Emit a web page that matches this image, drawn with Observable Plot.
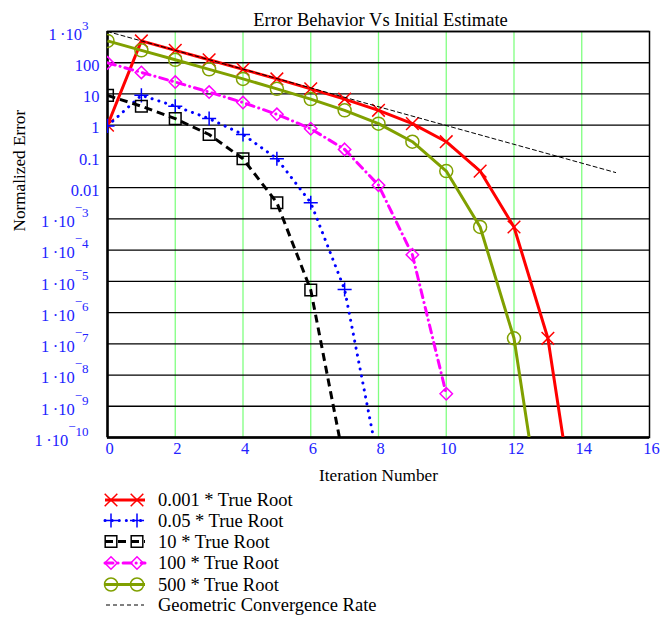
<!DOCTYPE html>
<html><head><meta charset="utf-8">
<script src="https://cdn.jsdelivr.net/npm/d3@7"></script>
<script src="https://cdn.jsdelivr.net/npm/@observablehq/plot@0.6"></script>
<style>
html,body{margin:0;padding:0;background:#fff;}
#chart svg,#legend svg{display:block;}
</style>
</head><body><div id="chart"></div><div id="legend"></div>
<script>
// ---- data ----
const iterations = [0,1,2,3,4,5,6,7,8,9,10,11,12,13,14];
const err0001 = [0.999, 499, 249, 124, 61.5, 30.3, 14.6, 6.86, 2.99, 1.12, 0.296, 0.0339, 5.5e-4, 1.5e-7, 1.2e-14];
const err005  = [0.95, 9.03, 4.06, 1.63, 0.505, 0.0848, 3.3e-3, 5.5e-6, 1.5e-11];
const err10   = [9, 4.05, 1.62, 0.503, 0.084, 3.3e-3, 5.3e-6, 1.4e-11];
const err100  = [99, 49, 24, 11.5, 5.3, 2.23, 0.77, 0.168, 0.012, 7.1e-5, 2.5e-9];
const err500  = [499, 249, 124, 61.5, 30.3, 14.6, 6.86, 2.99, 1.12, 0.296, 0.0339, 5.5e-4, 1.5e-7, 1.2e-14];
const geomX = [0, 15];
const geomY = [1000, 0.0305];
const seriesNames = ["0.001 * True Root", "0.05 * True Root", "10 * True Root", "100 * True Root", "500 * True Root"];
const geomName = "Geometric Convergence Rate";
const xTicks = [0, 2, 4, 6, 8, 10, 12, 14, 16];
const xGrid = [2, 4, 6, 8, 10, 12, 14];
const yTicks = [1e3, 100, 10, 1, 0.1, 0.01, 1e-3, 1e-4, 1e-5, 1e-6, 1e-7, 1e-8, 1e-9, 1e-10];
const yTickLabels = ["1·10^3", "100", "10", "1", "0.1", "0.01", "1·10^-3", "1·10^-4", "1·10^-5", "1·10^-6", "1·10^-7", "1·10^-8", "1·10^-9", "1·10^-10"];
const title = "Error Behavior Vs Initial Estimate";
const xLabel = "Iteration Number";
const yLabel = "Normalized Error";

// ---- styles ----
const FONT = "'Liberation Serif', 'Times New Roman', serif";
const BLUE = "#2222ff";
const styles = [
  {stroke: "#ff0000", dash: null, cap: "butt", symbol: "times", sym: d3.symbolTimes, r: 5.8},
  {stroke: "#0000ff", dash: "0.1 7", cap: "round", symbol: "plus", sym: d3.symbolPlus, r: 4.6},
  {stroke: "#000000", dash: "8 5", cap: "butt", symbol: "square2", sym: d3.symbolSquare2, r: 7.4},
  {stroke: "#ff00ff", dash: "8 5 0.1 5", cap: "round", symbol: "diamond2", sym: d3.symbolDiamond2, r: 5.6},
  {stroke: "#80a000", dash: null, cap: "butt", symbol: "circle", sym: d3.symbolCircle, r: 6.5}
];
const allSeries = [err0001, err005, err10, err100, err500];
const tables = allSeries.map((vals, k) => vals.map((v, i) => ({x: iterations[i], y: v, name: seriesNames[k]})));
const geomTable = geomX.map((x, i) => ({x, y: geomY[i]}));
const tickRows = yTicks.map((v, i) => ({v, label: yTickLabels[i]}));

const marks = [
  Plot.ruleX(xGrid, {stroke: "#80ff80", strokeWidth: 1.3}),
  Plot.ruleY(yTicks, {stroke: "#000", strokeWidth: 1.3}),
  Plot.frame({stroke: "#000", strokeWidth: 1.5}),
  Plot.ruleX([0], {stroke: "#000", strokeWidth: 2.5}),
  Plot.ruleY([1e-10], {stroke: "#000", strokeWidth: 2.5})
];
tables.forEach((t, k) => {
  const s = styles[k];
  marks.push(Plot.line(t, {x: "x", y: "y", stroke: s.stroke, strokeWidth: 3, strokeDasharray: s.dash, strokeLinecap: s.cap, clip: true}));
  marks.push(Plot.dot(t, {x: "x", y: "y", symbol: s.symbol, r: s.r, stroke: s.stroke, fill: "none", strokeWidth: 1.5, clip: true}));
});
marks.push(Plot.line(geomTable, {x: "x", y: "y", stroke: "#000", strokeWidth: 1, strokeDasharray: "4 3", clip: true}));
// tick labels
marks.push(Plot.text(xTicks, {x: d => d, text: d => String(d), frameAnchor: "bottom", dy: 16, dx: 2, fill: BLUE, fontSize: 16.5, fontFamily: FONT}));
marks.push(Plot.text(tickRows.filter(d => !d.label.includes("^")), {y: "v", text: "label", frameAnchor: "left", dx: -8, dy: 3, textAnchor: "end", fill: BLUE, fontSize: 16.5, fontFamily: FONT}));
marks.push(Plot.text(tickRows.filter(d => d.label.includes("^")), {y: "v", text: "label", frameAnchor: "left", dx: -19, dy: 3, textAnchor: "end", fill: BLUE, fontSize: 16.5, fontFamily: FONT}));
// titles
marks.push(Plot.text([title], {text: d => d, frameAnchor: "top", dy: -18.5, dx: 2, fill: "#000", fontSize: 18.5, fontFamily: FONT}));
marks.push(Plot.text([xLabel], {text: d => d, frameAnchor: "bottom", dy: 43, fill: "#000", fontSize: 17.2, fontFamily: FONT}));
marks.push(Plot.text([yLabel], {text: d => d, frameAnchor: "left", dx: -88, dy: -3, rotate: -90, fill: "#000", fontSize: 17.2, fontFamily: FONT}));

const svg = Plot.plot({
  width: 671, height: 490,
  marginLeft: 107, marginRight: 22, marginTop: 31, marginBottom: 53,
  x: {domain: [0, 16], axis: null},
  y: {type: "log", domain: [1e-10, 1e3], axis: null},
  style: {fontFamily: FONT, fontSize: "16px", background: "white", overflow: "visible"},
  marks
});

// superscripts for power-of-ten labels
d3.select(svg).selectAll("text").each(function() {
  const t = this.textContent;
  const m = t.match(/^(.*)\^(-?)(\d+)$/);
  if (!m) return;
  const sel = d3.select(this);
  sel.text(null);
  sel.append("tspan").text(m[1].replace("·", "\u2009·"));
  if (m[2]) {
    sel.append("tspan").attr("dy", -15).attr("font-size", 13).text("\u2212");
    sel.append("tspan").attr("dy", 5).attr("font-size", 13).text(m[3]);
  } else {
    sel.append("tspan").attr("dy", -10).attr("font-size", 13).text(m[3]);
  }
});
document.getElementById("chart").appendChild(svg);

// ---- legend ----
const leg = d3.create("svg").attr("width", 671).attr("height", 129)
  .style("font-family", FONT).style("font-size", "18.5px");
const rowY = [10, 30.5, 51.5, 73, 94.5, 115];
styles.forEach((s, k) => {
  const y = rowY[k];
  leg.append("line").attr("x1", 105).attr("x2", 145).attr("y1", y).attr("y2", y)
    .attr("stroke", s.stroke).attr("stroke-width", 3)
    .attr("stroke-dasharray", s.dash).attr("stroke-linecap", s.cap);
  const path = d3.symbol(s.sym, Math.PI * s.r * s.r)();
  [111, 137].forEach(x => leg.append("path").attr("d", path)
    .attr("transform", `translate(${x},${y})`)
    .attr("fill", "none").attr("stroke", s.stroke).attr("stroke-width", 1.5));
  leg.append("text").attr("x", 158).attr("y", y).attr("dy", "0.35em").text(seriesNames[k]);
});
leg.append("line").attr("x1", 106).attr("x2", 144).attr("y1", rowY[5]).attr("y2", rowY[5])
  .attr("stroke", "#000").attr("stroke-width", 1).attr("stroke-dasharray", "4 3");
leg.append("text").attr("x", 158).attr("y", rowY[5]).attr("dy", "0.35em").text(geomName);
document.getElementById("legend").appendChild(leg.node());
</script>
</body></html>
